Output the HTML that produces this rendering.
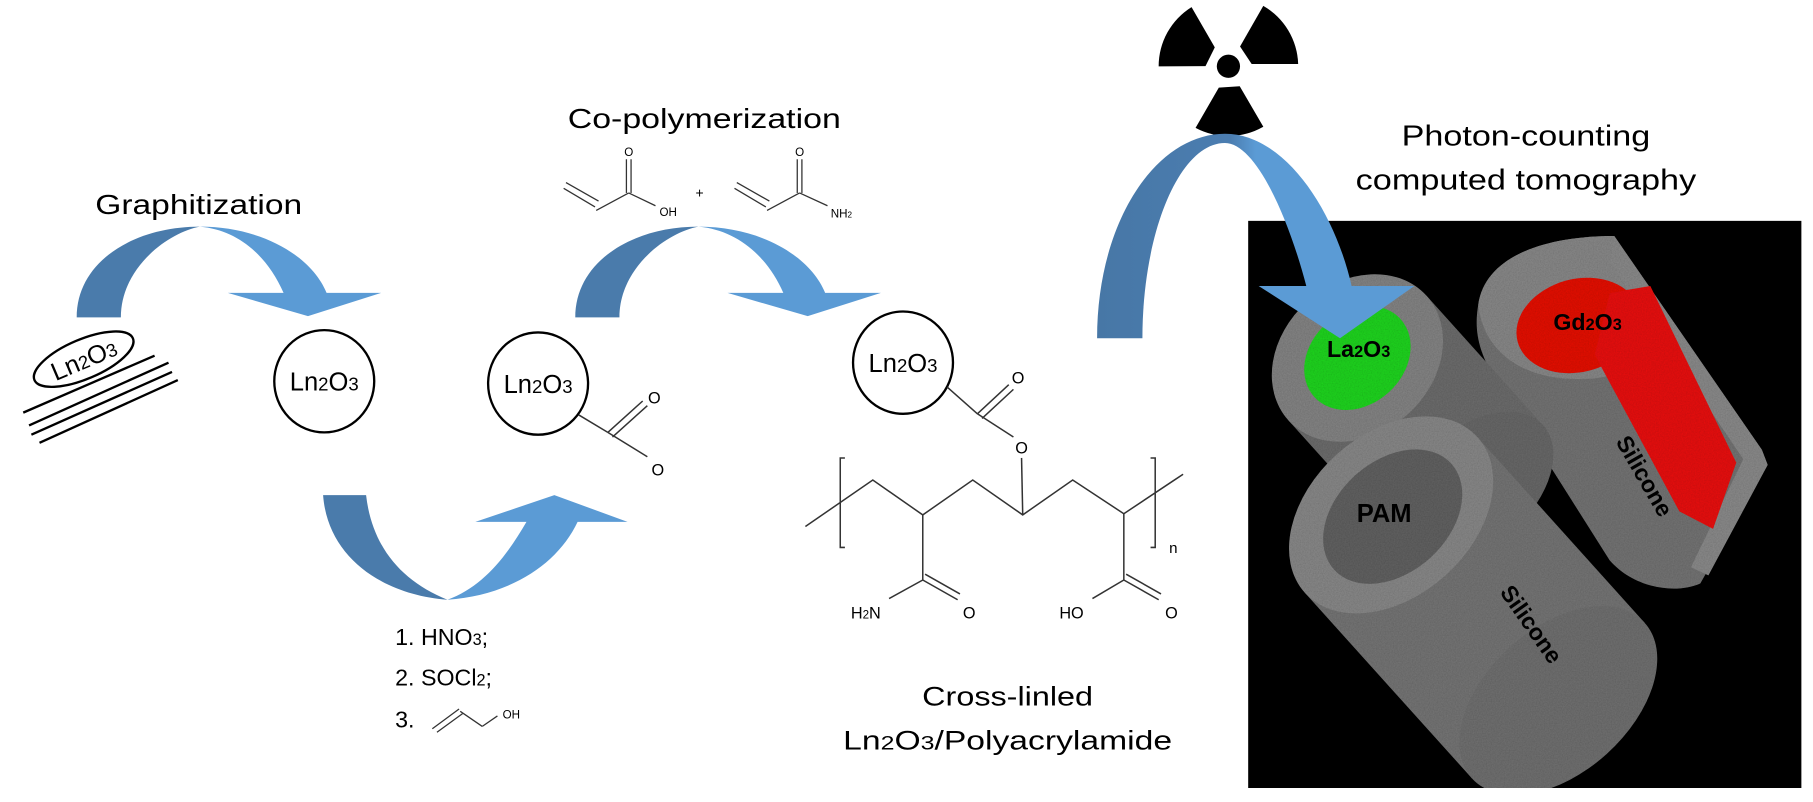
<!DOCTYPE html>
<html><head><meta charset="utf-8"><style>
html,body{margin:0;padding:0;background:#fff;width:1813px;height:802px;overflow:hidden}
svg{display:block}
text{font-family:"Liberation Sans","DejaVu Sans",sans-serif;fill:#000}
</style></head><body>
<svg width="1813" height="802" viewBox="0 0 1560 690" xmlns="http://www.w3.org/2000/svg">
<defs>
<linearGradient id="g2" x1="0" x2="1" y1="0" y2="0">
<stop offset="0" stop-color="#4777a6"/><stop offset="0.42" stop-color="#4b7db0"/><stop offset="0.5" stop-color="#5b9bd5"/><stop offset="1" stop-color="#5b9bd5"/>
</linearGradient>
<clipPath id="box"><rect x="1074" y="190" width="476" height="488"/></clipPath>
<filter id="grain" x="0" y="0" width="100%" height="100%">
<feTurbulence type="fractalNoise" baseFrequency="0.9" numOctaves="2" result="n"/>
<feColorMatrix in="n" type="matrix" values="0 0 0 0 0  0 0 0 0 0  0 0 0 0 0  0 0 0 0.35 0" result="m"/>
<feComposite in="m" in2="SourceGraphic" operator="in" result="c"/>
<feMerge><feMergeNode in="SourceGraphic"/><feMergeNode in="c"/></feMerge>
</filter>
</defs>

<!-- Arrow 1 -->
<path d="M66,273 C66,225 115,195 172,195 C145,200 104,230 104,273 Z" fill="#4a7bab"/>
<path d="M172,195 C225,195 268,220 281,252 L328,252 L265,272 L196,252 L244,252 C230,220 205,198 172,195 Z" fill="#5b9bd5"/>
<text x="171" y="184" font-size="24" text-anchor="middle" textLength="178" lengthAdjust="spacingAndGlyphs">Graphitization</text>

<!-- tilted Ln2O3 -->
<g stroke="#000" stroke-width="2">
<line x1="20" y1="355" x2="133" y2="306"/>
<line x1="25" y1="366" x2="145" y2="312"/>
<line x1="27" y1="374" x2="148" y2="320"/>
<line x1="34" y1="381" x2="153" y2="327"/>
</g>
<g transform="translate(72,309) rotate(-23)">
<ellipse cx="0" cy="0" rx="46" ry="17" fill="#fff" stroke="#000" stroke-width="2"/>
<text x="0" y="8" font-size="22" text-anchor="middle">Ln<tspan font-size="16">2</tspan>O<tspan font-size="16">3</tspan></text>
</g>

<!-- circle 1 -->
<ellipse cx="279" cy="328" rx="43" ry="44" fill="#fff" stroke="#000" stroke-width="2"/>
<text x="279" y="336" font-size="22" text-anchor="middle">Ln<tspan font-size="16">2</tspan>O<tspan font-size="16">3</tspan></text>

<!-- circle 2 with carboxyl -->
<ellipse cx="463" cy="330" rx="43" ry="44" fill="#fff" stroke="#000" stroke-width="2"/>
<text x="463" y="338" font-size="22" text-anchor="middle">Ln<tspan font-size="16">2</tspan>O<tspan font-size="16">3</tspan></text>
<g stroke="#333" stroke-width="1.3" fill="none">
<line x1="498" y1="357" x2="523" y2="372"/>
<line x1="523" y1="372" x2="553" y2="345"/><line x1="527" y1="376" x2="557" y2="349"/>
<line x1="523" y1="372" x2="557" y2="393"/>
</g>
<text x="563" y="347" font-size="14" text-anchor="middle">O</text>
<text x="566" y="409" font-size="14" text-anchor="middle">O</text>

<!-- Arrow 2 -->
<path d="M495,273 C495,225 544,195 601,195 C574,200 533,230 533,273 Z" fill="#4a7bab"/>
<path d="M601,195 C654,195 697,220 710,252 L758,252 L695,272 L626,252 L674,252 C660,220 634,198 601,195 Z" fill="#5b9bd5"/>
<text x="606" y="110" font-size="24" text-anchor="middle" textLength="235" lengthAdjust="spacingAndGlyphs">Co-polymerization</text>
<!-- monomers -->
<g stroke="#333" stroke-width="1.1" fill="none">
<line x1="485" y1="162" x2="512" y2="178"/><line x1="487" y1="157" x2="515" y2="173"/>
<line x1="513" y1="181" x2="541" y2="166"/>
<line x1="539" y1="166" x2="539" y2="137"/><line x1="543" y1="166" x2="543" y2="137"/>
<line x1="541" y1="166" x2="564" y2="177"/>
<line x1="632" y1="162" x2="659" y2="178"/><line x1="634" y1="157" x2="662" y2="173"/>
<line x1="660" y1="181" x2="688" y2="166"/>
<line x1="686" y1="166" x2="686" y2="137"/><line x1="690" y1="166" x2="690" y2="137"/>
<line x1="688" y1="166" x2="712" y2="177"/>
</g>
<text x="541" y="134" font-size="10" text-anchor="middle">O</text>
<text x="575" y="186" font-size="10" text-anchor="middle">OH</text>
<text x="602" y="170" font-size="12" text-anchor="middle">+</text>
<text x="688" y="134" font-size="10" text-anchor="middle">O</text>
<text x="724" y="187" font-size="10" text-anchor="middle">NH<tspan font-size="7">2</tspan></text>

<!-- bottom arrow -->
<path d="M278,426 L315,426 C320,470 345,500 385,516 C330,512 282,480 278,426 Z" fill="#4a7bab"/>
<path d="M385,516 C440,512 480,485 497,449 L540,449 L477,426 L409,449 L453,449 C435,480 415,505 385,516 Z" fill="#5b9bd5"/>
<text x="340" y="555" font-size="20">1. HNO<tspan font-size="14">3</tspan>;</text>
<text x="340" y="590" font-size="20">2. SOCl<tspan font-size="14">2</tspan>;</text>
<text x="340" y="626" font-size="20">3.</text>
<g stroke="#333" stroke-width="1.1" fill="none">
<line x1="372" y1="627" x2="395" y2="610"/><line x1="376" y1="630" x2="398" y2="614"/>
<line x1="396" y1="612" x2="415" y2="625"/><line x1="415" y1="625" x2="428" y2="616"/>
</g>
<text x="440" y="618" font-size="10" text-anchor="middle">OH</text>

<!-- polymer -->
<ellipse cx="777" cy="312" rx="43" ry="44" fill="#fff" stroke="#000" stroke-width="2"/>
<text x="777" y="320" font-size="22" text-anchor="middle">Ln<tspan font-size="16">2</tspan>O<tspan font-size="16">3</tspan></text>
<g stroke="#333" stroke-width="1.3" fill="none">
<line x1="815" y1="333" x2="841" y2="356"/>
<line x1="841" y1="356" x2="868" y2="331"/><line x1="845" y1="360" x2="872" y2="335"/>
<line x1="841" y1="356" x2="872" y2="376"/>
<line x1="879" y1="394" x2="880" y2="443"/>
<path d="M727,394 L723,394 L723,471 L727,471"/>
<polyline points="693,453 751,413 794,443 837,413 880,443 923,413 967,442 1009,414 1018,408"/>
<path d="M990,394 L994,394 L994,471 L990,471"/>
<line x1="794" y1="443" x2="794" y2="499"/>
<line x1="794" y1="499" x2="765" y2="515"/>
<line x1="794" y1="499" x2="824" y2="516"/><line x1="796" y1="494" x2="826" y2="511"/>
<line x1="967" y1="442" x2="967" y2="499"/>
<line x1="967" y1="499" x2="940" y2="515"/>
<line x1="967" y1="499" x2="997" y2="516"/><line x1="969" y1="494" x2="999" y2="511"/>
</g>
<text x="876" y="330" font-size="14" text-anchor="middle">O</text>
<text x="879" y="390" font-size="14" text-anchor="middle">O</text>
<text x="1006" y="476" font-size="13" font-family="Liberation Serif">n</text>
<text x="745" y="532" font-size="14" text-anchor="middle">H<tspan font-size="10">2</tspan>N</text>
<text x="834" y="532" font-size="14" text-anchor="middle">O</text>
<text x="922" y="532" font-size="14" text-anchor="middle">HO</text>
<text x="1008" y="532" font-size="14" text-anchor="middle">O</text>
<text x="867" y="607" font-size="23" text-anchor="middle" textLength="147" lengthAdjust="spacingAndGlyphs">Cross-linled</text>
<text x="867" y="645" font-size="23" text-anchor="middle" textLength="283" lengthAdjust="spacingAndGlyphs">Ln<tspan font-size="17">2</tspan>O<tspan font-size="17">3</tspan>/Polyacrylamide</text>

<!-- radiation -->
<g transform="translate(1057,57)" fill="#000">
<circle r="10"/>
<path d="M-17,-10 L-52,-30 A60,60 0 0 1 -2,-60 L-2,-20 Z" transform="rotate(-30)"/>
<path d="M-17,-10 L-52,-30 A60,60 0 0 1 -2,-60 L-2,-20 Z" transform="rotate(90)"/>
<path d="M-17,-10 L-52,-30 A60,60 0 0 1 -2,-60 L-2,-20 Z" transform="rotate(210)"/>
</g>

<text x="1313" y="125" font-size="25" text-anchor="middle" textLength="214" lengthAdjust="spacingAndGlyphs">Photon-counting</text>
<text x="1313" y="163" font-size="25" text-anchor="middle" textLength="293" lengthAdjust="spacingAndGlyphs">computed tomography</text>

<!-- CT box -->
<rect x="1074" y="190" width="476" height="488" fill="#000"/>
<g clip-path="url(#box)">
<g filter="url(#grain)">
<!-- Gd cut cylinder -->
<path d="M1272,262 C1278,220 1330,203 1389,203 L1516,387 L1521,400 L1463,502 C1440,512 1405,505 1385,482 L1292,335 C1272,305 1268,285 1272,262 Z" fill="#767676"/>
<path d="M1272,262 C1278,220 1330,203 1389,203 L1440,280 C1420,320 1380,330 1340,325 C1300,320 1275,295 1272,262 Z" fill="#8a8a8a"/>
<path d="M1389,203 L1516,387 L1521,400 L1470,495 L1455,488 L1500,395 L1385,225 Z" fill="#8c8c8c"/>
<ellipse cx="1358" cy="280" rx="54" ry="40" transform="rotate(-15 1358 280)" fill="#e81410"/>
<path d="M1385,252 L1420,246 L1494,398 L1474,455 L1445,440 L1372,305 Z" fill="#ec1812"/>
<!-- La cylinder -->
<g transform="translate(1168,308) rotate(-42)">
<rect x="-80" y="0" width="160" height="150" fill="#6e6e6e"/>
<ellipse cx="0" cy="150" rx="80" ry="50" fill="#6a6a6a"/>
<ellipse cx="0" cy="0" rx="80" ry="65" fill="#868686"/>
<ellipse cx="0" cy="0" rx="50" ry="40" fill="#22d822"/>
</g>
<!-- PAM cylinder -->
<g transform="translate(1197,443) rotate(-42)">
<rect x="-100" y="0" width="200" height="215" fill="#777"/>
<ellipse cx="0" cy="215" rx="100" ry="62" fill="#727272"/>
<ellipse cx="0" cy="0" rx="100" ry="70" fill="#8a8a8a"/>
<ellipse cx="0" cy="2" rx="68" ry="48" fill="#646464"/>
</g>
</g>
</g>
<text x="1169" y="307" font-size="20" font-weight="bold" text-anchor="middle">La<tspan font-size="14">2</tspan>O<tspan font-size="14">3</tspan></text>
<text x="1366" y="284" font-size="20" font-weight="bold" text-anchor="middle">Gd<tspan font-size="14">2</tspan>O<tspan font-size="14">3</tspan></text>
<text x="1191" y="449" font-size="22" font-weight="bold" text-anchor="middle" fill="#111">PAM</text>
<text transform="translate(1409,413) rotate(60)" font-size="20" font-weight="bold" text-anchor="middle" fill="#111">Silicone</text>
<text transform="translate(1312,541) rotate(55)" font-size="20" font-weight="bold" text-anchor="middle" fill="#111">Silicone</text>

<!-- Arrow 3 -->
<path d="M944,291 C944,190 995,115 1054,115 C1105,115 1148,180 1163,246 L1217,246 L1153,291 L1083,246 L1124,246 C1108,185 1080,123 1054,123 C1015,123 983,200 983,291 Z" fill="url(#g2)"/>
</svg>
</body></html>
